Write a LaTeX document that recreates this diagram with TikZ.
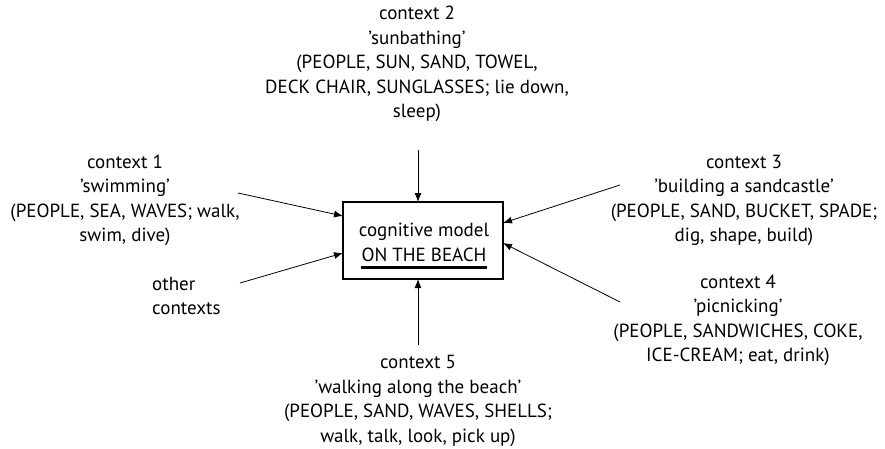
\documentclass[tikz,border=0pt]{standalone}
\usepackage{fontspec}
\setmainfont{PT Sans}
\usetikzlibrary{arrows.meta}
\begin{document}
\begin{tikzpicture}[x=1pt,y=-1pt,
  lbl/.style={align=center,inner sep=0pt,font=\fontsize{19}{24.5}\selectfont},
  lbll/.style={align=left,inner sep=0pt,font=\fontsize{19}{24.5}\selectfont},
  arr/.style={-{Latex[length=9pt,width=7pt]},line width=0.8pt},
  boxst/.style={draw,line width=1.5pt,minimum width=160pt,minimum height=77pt,inner sep=0pt}]
\useasboundingbox (0,0) rectangle (885,449);
% central box
\node[boxst] (m) at (423,240.5) {};
\node[lbl,anchor=base] (t1) at (424,236.5) {cognitive model};
\node[lbl,anchor=base] (t2) at (424,261) {ON THE BEACH};
\draw[line width=2.5pt] ([yshift=-6.5pt]t2.base west) -- ([yshift=-6.5pt]t2.base east);
% context labels (anchor base = baseline of last line)
\node[lbl,anchor=base] (c2) at (417,118) {context 2\\’sunbathing’\\(PEOPLE, SUN, SAND, TOWEL,\\DECK CHAIR, SUNGLASSES; lie down,\\sleep)};
\node[lbl,anchor=base] (c1) at (125,241.5) {context 1\\’swimming’\\(PEOPLE, SEA, WAVES; walk,\\swim, dive)};
\node[lbll,anchor=base west] (oc) at (152,314.5) {other\\contexts};
\node[lbl,anchor=base] (c3) at (744,241.5) {context 3\\’building a sandcastle’\\(PEOPLE, SAND, BUCKET, SPADE;\\dig, shape, build)};
\node[lbl,anchor=base] (c4) at (738,361.5) {context 4\\’picnicking’\\(PEOPLE, SANDWICHES, COKE,\\ICE-CREAM; eat, drink)};
\node[lbl,anchor=base] (c5) at (418,442) {context 5\\’walking along the beach’\\(PEOPLE, SAND, WAVES, SHELLS;\\walk, talk, look, pick up)};
% connector ends
\coordinate (s2) at (418,150);  \coordinate (e2) at (418,202);
\coordinate (s1) at (238,193);  \coordinate (e1) at (343,216);
\coordinate (so) at (240,283);  \coordinate (eo) at (343,253);
\coordinate (s3) at (620,185);  \coordinate (e3) at (503,223);
\coordinate (s4) at (620,302);  \coordinate (e4) at (503,243);
\coordinate (s5) at (418,345);  \coordinate (e5) at (418,279);
\draw[arr] (s2) -- (e2);
\draw[arr] (s1) -- (e1);
\draw[arr] (so) -- (eo);
\draw[arr] (s3) -- (e3);
\draw[arr] (s4) -- (e4);
\draw[arr] (s5) -- (e5);
\end{tikzpicture}
\end{document}
